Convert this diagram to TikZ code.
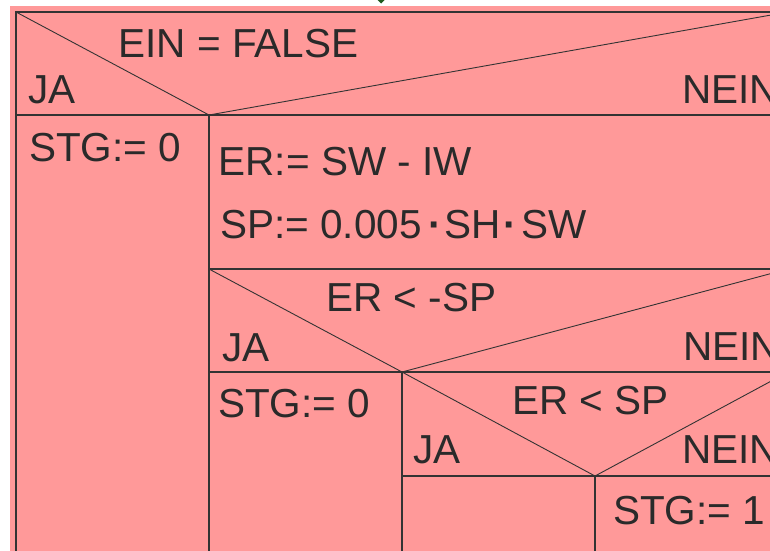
\documentclass[tikz,border=0pt]{standalone}
\usepackage{fontspec}
\setmainfont{Liberation Sans}
\definecolor{nsfill}{HTML}{FF9999}
\definecolor{nsline}{HTML}{333333}
\definecolor{nstext}{HTML}{2A2A2A}
\definecolor{arrowgreen}{HTML}{1E5A1E}
\tikzset{
  lbl/.style={anchor=base west, inner sep=0pt, text=nstext, font=\fontsize{40.5}{40.5}\selectfont},
  frame/.style={draw=nsline, line width=1.3pt},
  diag/.style={draw=nsline, line width=0.9pt},
}
\begin{document}
\begin{tikzpicture}[x=1pt,y=-1pt]
\useasboundingbox (0,0) rectangle (770,550);
\clip (0,0) rectangle (770,550);
\fill[nsfill] (10,6) rectangle (800,560);
% green arrow tip
\fill[arrowgreen] (376.5,-1) -- (385.5,-1) -- (381,3.5) -- cycle;
% frames
\coordinate (a) at (16,12);
\coordinate (b) at (788,12);
\draw[frame] (16,560) -- (a) -- (b) -- (788,560);
\draw[frame] (16,115) -- (788,115);
\draw[diag] (a) -- (209,115) -- (b);
\draw[frame] (209,115) -- (209,560);
\draw[frame] (209,269) -- (788,269);
\draw[diag] (209,269) -- (402,372) -- (788,269);
\draw[frame] (209,372) -- (788,372);
\draw[frame] (402,372) -- (402,560);
\draw[diag] (402,372) -- (595,476) -- (788,372);
\draw[frame] (402,476) -- (788,476);
\draw[frame] (595,476) -- (595,560);
% texts
\node[lbl] (c1) at (118.5,57) {EIN = FALSE};
\node[lbl] (j1) at (28,103) {JA};
\node[lbl] (n1) at (682,103) {NEIN};
\node[lbl] (s1) at (29,161.5) {STG:= 0};
\node[lbl] (e1) at (218.5,175) {ER:= SW - IW};
\node[lbl] (p1) at (220,238) {SP:= 0.005\kern7pt\textbf{·}\kern2pt SH\kern3pt\textbf{·}\kern5pt SW};
\node[lbl] (c2) at (326,311) {ER < -SP};
\node[lbl] (j2) at (222,361) {JA};
\node[lbl] (n2) at (683,360) {NEIN};
\node[lbl] (s2) at (218,417) {STG:= 0};
\node[lbl] (c3) at (512,414) {ER < SP};
\node[lbl] (j3) at (413,463) {JA};
\node[lbl] (n3) at (682,463) {NEIN};
\node[lbl] (s3) at (613,524) {STG:= 1};
\end{tikzpicture}
\end{document}
